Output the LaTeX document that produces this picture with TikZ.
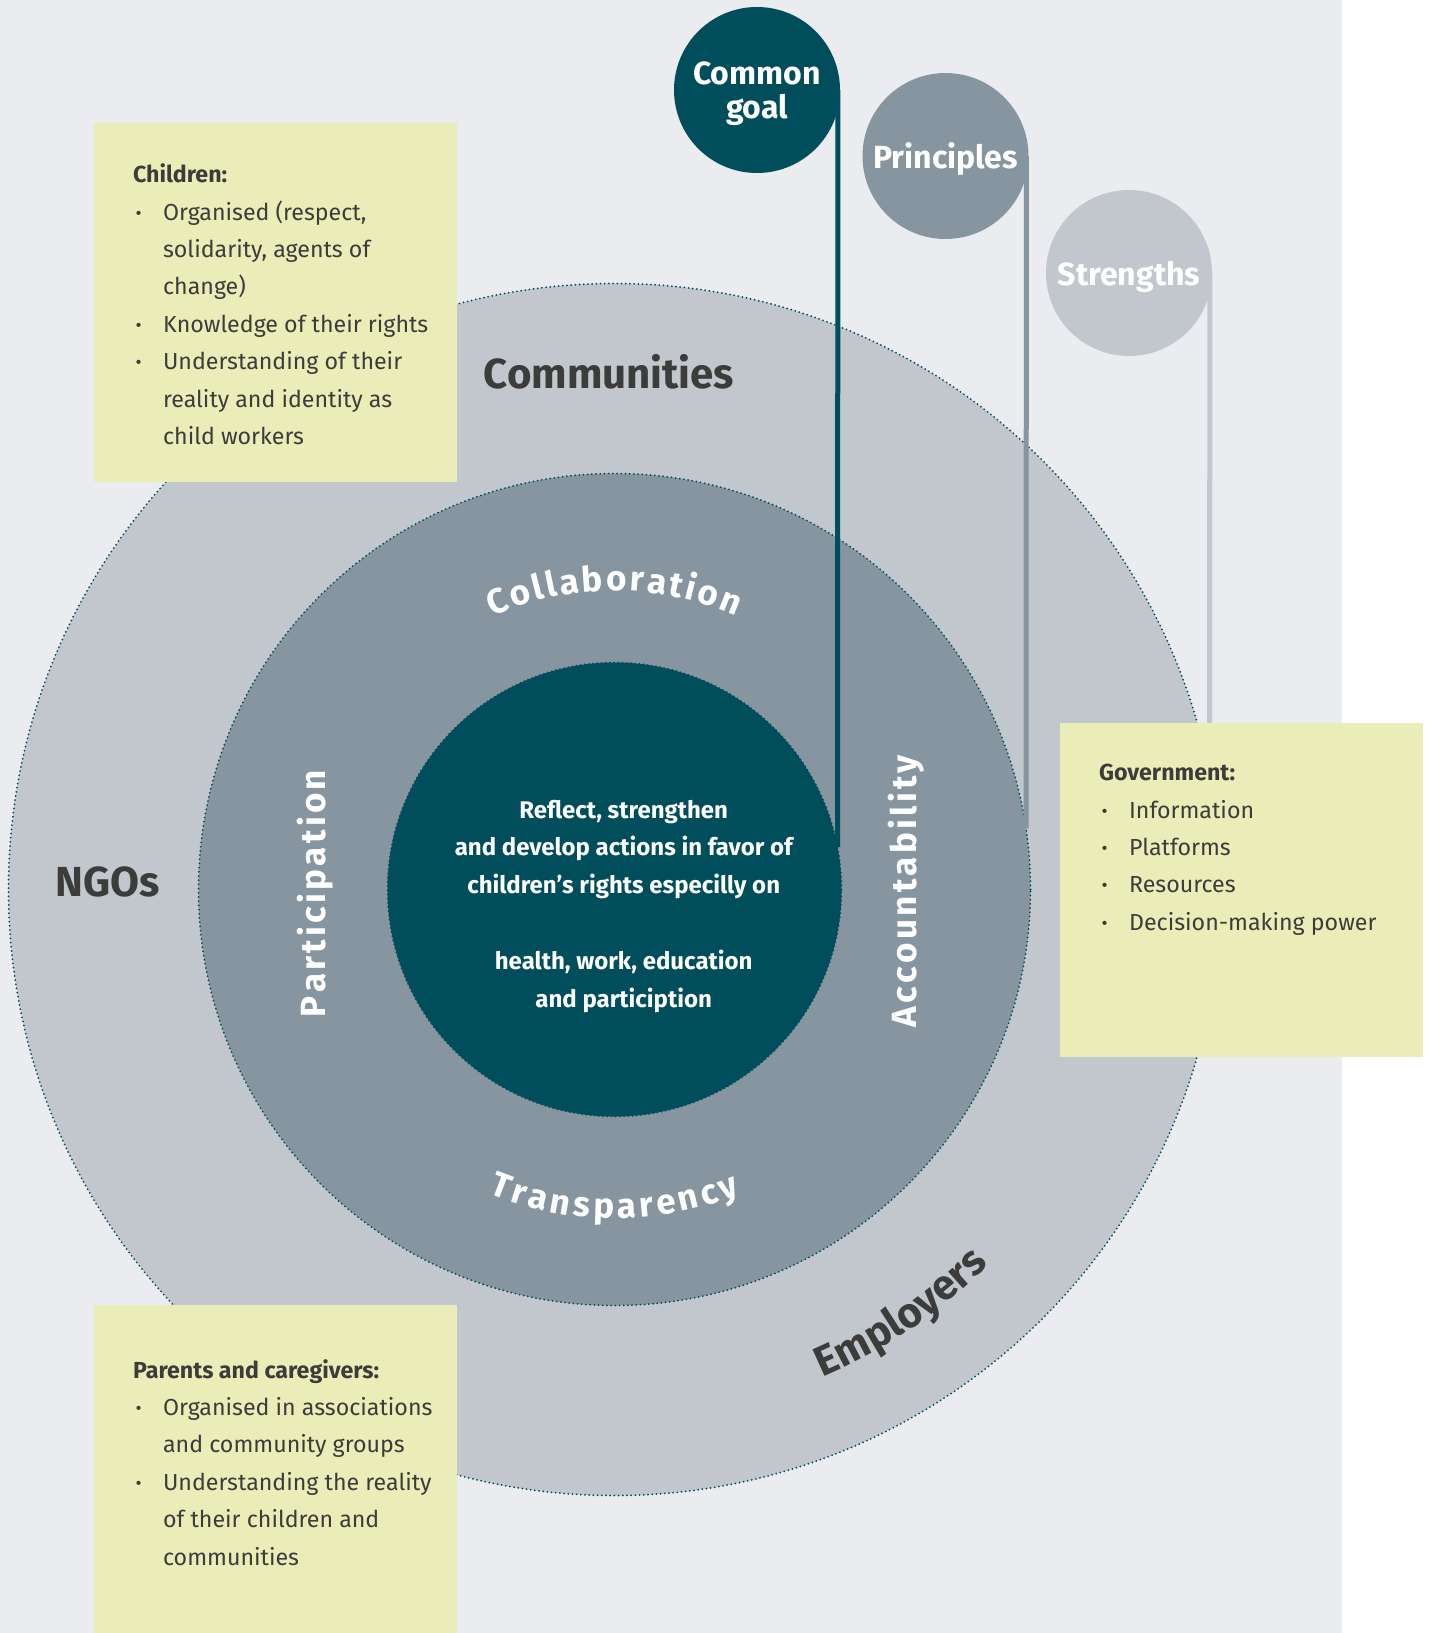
\documentclass[tikz,border=0pt]{standalone}
\usepackage{fontspec}
\setmainfont{Fira Sans}
\usetikzlibrary{decorations.text}
\definecolor{panelgrey}{HTML}{EBECEF}
\definecolor{outergrey}{HTML}{C2C7CE}
\definecolor{midgrey}{HTML}{8795A1}
\definecolor{deepteal}{HTML}{004D5B}
\definecolor{notepad}{HTML}{EAEDB7}
\definecolor{inkgrey}{HTML}{3C3C3B}
\newcommand{\ringstyle}{\bfseries\fontsize{17.5}{20}\selectfont}
\newcommand{\bigstyle}{\bfseries\fontsize{21}{24}\selectfont}
\newcommand{\dotmark}{\makebox[15pt][l]{\hspace{1.4pt}\textbf{\textperiodcentered}}}
\def\arclabel[#1,#2](#3:#4:#5)#6{\path[decorate,decoration={text along path,text align=#2,text color=#1,text={#6}}] (#3:#5) arc (#3:#4:#5);}
\def\barlabel(#1)(#2)#3{\path[decorate,decoration={text along path,text align=fit to path,text color=white,text={#3}}] (#1) -- (#2);}

\begin{document}
\begin{tikzpicture}[x=0.5pt, y=-0.5pt,
		ring/.style={circle, inner sep=0pt, draw=deepteal, line width=1pt, dash pattern=on 0pt off 2.1pt, line cap=round},
		bubble/.style={circle, inner sep=0pt, minimum size=83pt, text=white, align=center, text depth=0pt, font=\bfseries\fontsize{16}{17.2}\selectfont},
		stem/.style={line width=2.5pt},
		notebox/.style={fill=notepad, inner sep=0pt, anchor=north west, minimum width=181.5pt},
		notetext/.style={anchor=base west, inner sep=0pt, text=inkgrey, font=\fontsize{11.6}{18.7}\selectfont},
		bigword/.style={anchor=base, inner sep=0pt, text=inkgrey, font=\bigstyle}]
			%%%%% START %%%%%
			\useasboundingbox (0,0) rectangle (1431,1633);
			\fill[white] (0,0) rectangle (1431,1633);
			\fill[panelgrey] (0,0) rectangle (1342,1633);
			
			\node[ring, fill=outergrey, minimum size=606pt] (outer) at (614.5,889.5) {};
			\node[ring, fill=midgrey, minimum size=416pt] (middle) at (614.5,889.5) {};
			\node[ring, fill=deepteal, minimum size=227pt] (inner) at (614.5,889.5) {};
			
			\node[bigword] (communities) at (609,388) {Communities};
			\node[bigword] (ngos) at (108,896) {NGOs};
			
			\node[anchor=base, inner sep=0pt, text=white, font=\bfseries\fontsize{12}{18.9}\selectfont] (goaltext) at (623.7,818) {\begin{tabular}[t]{@{}c@{}}
				Reflect, strengthen\\
				and develop actions in favor of\\
				children’s rights especilly on\\
				\\
				health, work, education\\
				and particiption
			\end{tabular}};
			
			\begin{scope}[shift={(614.5,889.5)}, y=0.5pt]
				\arclabel[white,fit to path](114:66:299){|\ringstyle|Collaboration}
				\arclabel[white,fit to path](247.5:292.5:329){|\ringstyle|Transparency}
				\arclabel[inkgrey,center](-100:-12:530){|\bigstyle|Employers}
			\end{scope}
			\barlabel(325,1017)(325,770){|\ringstyle|Participation}
			\barlabel(916,1027)(916,755){|\ringstyle|Accountability}
			
			\node[bubble, fill=deepteal] (goal) at (757,90) {Common\\goal};
			\node[bubble, fill=midgrey] (principles) at (945.5,156) {Principles};
			\node[bubble, fill=outergrey] (strengths) at (1129,273) {Strengths};
			
			\coordinate (goalfoot) at (837.5,847);
			\coordinate (principlesfoot) at (1026,828.5);
			\coordinate (strengthsfoot) at (1209.5,774.5);
			\draw[stem, deepteal] ([xshift=-1.25pt]goal.east) -- (goalfoot);
			\draw[stem, midgrey] ([xshift=-1.25pt]principles.east) -- (principlesfoot);
			\draw[stem, outergrey] ([xshift=-1.25pt]strengths.east) -- (strengthsfoot);
			
			\node[notebox, minimum height=179.5pt] (kidsbox) at (94,123) {};
			\node[notetext] (kidstext) at (132.7,182.7) {\begin{tabular}[t]{@{}l@{}l@{}}
				\multicolumn{2}{@{}l@{}}{\textbf{Children:}}\\
				\dotmark & Organised (respect,\\
				& solidarity, agents of\\
				& change)\\
				\dotmark & Knowledge of their rights\\
				\dotmark & Understanding of their\\
				& reality and identity as\\
				& child workers
			\end{tabular}};
			
			\node[notebox, minimum height=167pt] (govbox) at (1060,723) {};
			\node[notetext] (govtext) at (1098.7,780.7) {\begin{tabular}[t]{@{}l@{}l@{}}
				\multicolumn{2}{@{}l@{}}{\textbf{Government:}}\\
				\dotmark & Information\\
				\dotmark & Platforms\\
				\dotmark & Resources\\
				\dotmark & Decision-making power
			\end{tabular}};
			
			\node[notebox, minimum height=164pt] (parentsbox) at (94,1305) {};
			\node[notetext] (parentstext) at (132.7,1378) {\begin{tabular}[t]{@{}l@{}l@{}}
				\multicolumn{2}{@{}l@{}}{\textbf{Parents and caregivers:}}\\
				\dotmark & Organised in associations\\
				& and community groups\\
				\dotmark & Understanding the reality\\
				& of their children and\\
				& communities
			\end{tabular}};
			
			%%%%% END %%%%%
		\end{tikzpicture}
\end{document}
